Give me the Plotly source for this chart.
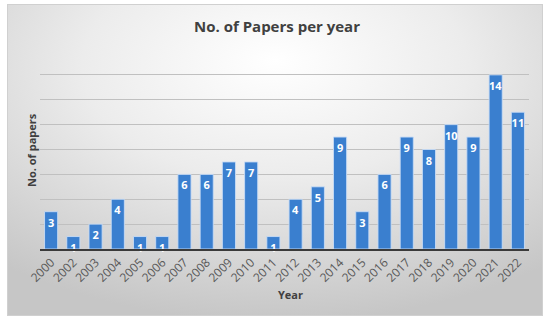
import plotly.graph_objects as go
import urllib.parse

years = ["2000", "2002", "2003", "2004", "2005", "2006", "2007", "2008", "2009", "2010", "2011",
         "2012", "2013", "2014", "2015", "2016", "2017", "2018", "2019", "2020", "2021", "2022"]
papers = [3, 1, 2, 4, 1, 1, 6, 6, 7, 7, 1, 4, 5, 9, 3, 6, 9, 8, 10, 9, 14, 11]

W, H = 550, 324
L, R, T, B = 40, 21, 50, 75
pw, ph = W - L - R, H - T - B

def px_to_paper_x(px):
    return (px - L) / pw

def px_to_paper_y(py):
    return (H - B - py) / ph

svg = (
    "<svg xmlns='http://www.w3.org/2000/svg' width='536' height='312' viewBox='0 0 536 312' preserveAspectRatio='none'>"
    "<defs><radialGradient id='g' cx='50%' cy='22%' r='80%' fx='50%' fy='18%'>"
    "<stop offset='0%' stop-color='#ffffff'/>"
    "<stop offset='45%' stop-color='#ececec'/>"
    "<stop offset='100%' stop-color='#c6c6c6'/>"
    "</radialGradient></defs>"
    "<rect x='0.5' y='0.5' width='535' height='311' fill='url(#g)' stroke='#d0d0d0' stroke-width='1'/>"
    "</svg>"
)
src = "data:image/svg+xml;charset=utf-8," + urllib.parse.quote(svg)

fig = go.Figure()
fig.add_trace(go.Bar(
    x=years, y=papers,
    marker=dict(color="#3a7fcf", line=dict(color="rgba(200,220,245,0.9)", width=1)),
    text=[str(v) for v in papers],
    textposition="inside",
    insidetextanchor="end",
    textangle=0,
    constraintext="none",
    textfont=dict(family="Open Sans", size=11, color="white", weight="bold"),
    cliponaxis=False,
))

fig.update_layout(
    width=W, height=H,
    margin=dict(l=L, r=R, t=T, b=B),
    paper_bgcolor="white",
    plot_bgcolor="rgba(0,0,0,0)",
    bargap=0.41,
    showlegend=False,
    font=dict(family="Open Sans", color="#595959"),
    images=[dict(
        source=src, xref="paper", yref="paper",
        x=px_to_paper_x(7), y=px_to_paper_y(4),
        sizex=(543 - 7) / pw, sizey=(316 - 4) / ph,
        sizing="stretch", xanchor="left", yanchor="top", layer="below",
    )],
    xaxis=dict(
        type="category",
        tickangle=-45,
        tickfont=dict(size=12, color="#595959"),
        showline=True, linecolor="#3a3a3a", linewidth=1.5,
        ticks="", showgrid=False,
    ),
    yaxis=dict(
        range=[0, 16], dtick=2,
        showticklabels=False,
        showgrid=True, gridcolor="#c0c0c0", gridwidth=1,
        zeroline=False, showline=False, ticks="",
    ),
    annotations=[
        dict(text="<b>No. of Papers per year</b>", xref="paper", yref="paper",
             x=px_to_paper_x(277), y=px_to_paper_y(26), showarrow=False,
             font=dict(size=15, color="#404040"), xanchor="center", yanchor="middle"),
        dict(text="<b>Year</b>", xref="paper", yref="paper",
             x=px_to_paper_x(290), y=px_to_paper_y(294), showarrow=False,
             font=dict(size=11, color="#404040"), xanchor="center", yanchor="middle"),
        dict(text="<b>No. of papers</b>", xref="paper", yref="paper",
             x=px_to_paper_x(31), y=px_to_paper_y(150), showarrow=False, textangle=-90,
             font=dict(size=11, color="#404040"), xanchor="center", yanchor="middle"),
    ],
)

fig.write_html("out.html", config={"displayModeBar": False},
               post_script="document.body.style.margin='0';")
